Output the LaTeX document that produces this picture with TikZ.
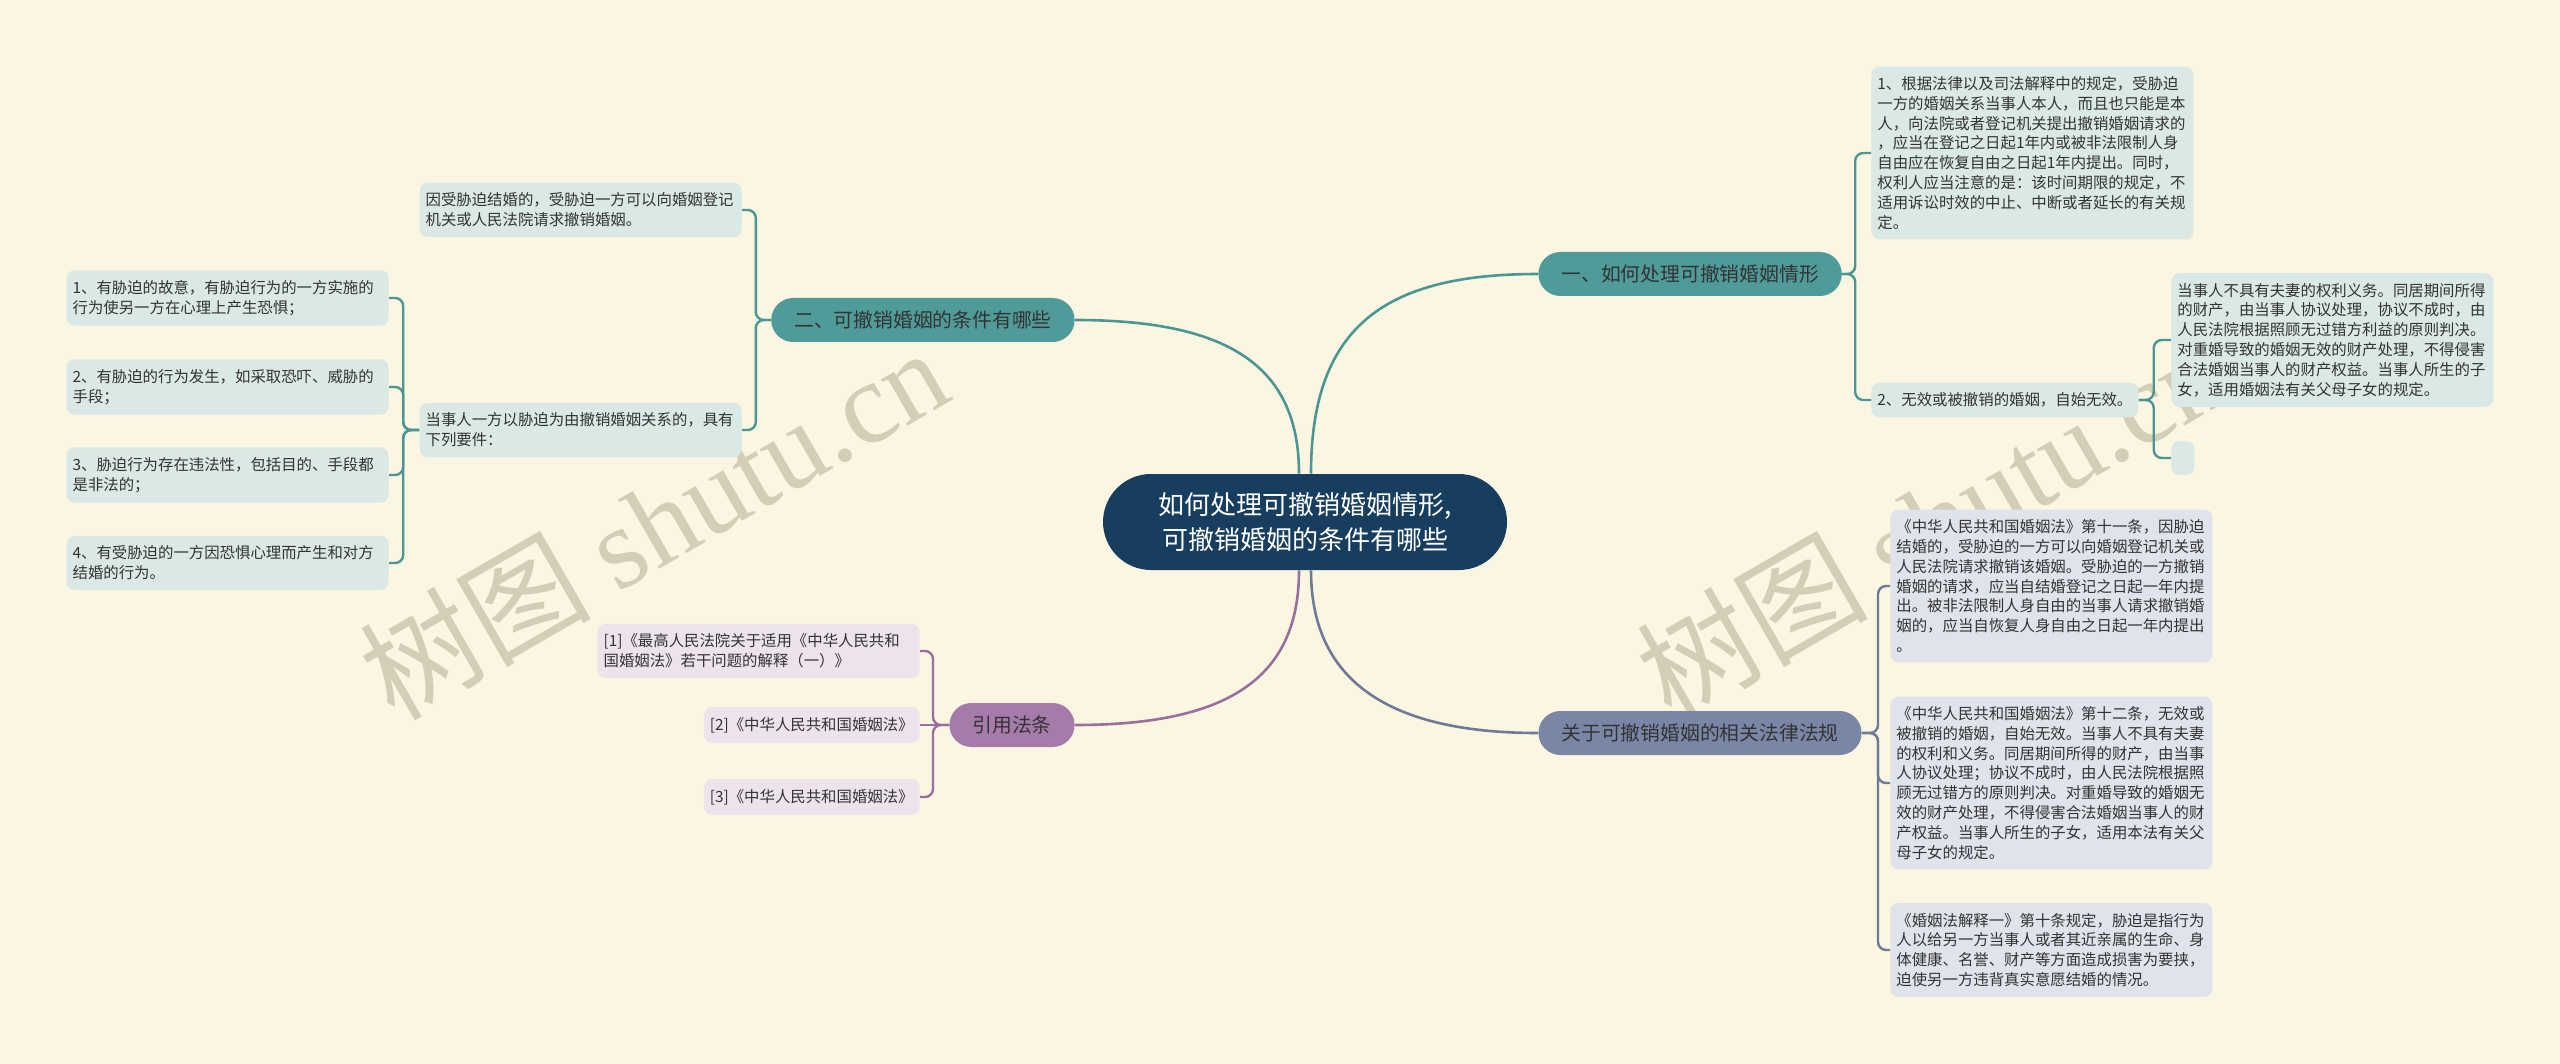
\documentclass[tikz,border=0pt]{standalone}
\usepackage{fontspec}
\setmainfont{Noto Sans CJK SC}
\newfontfamily\wmlatin{Liberation Serif}
\definecolor{paper}{HTML}{FBF6E2}
\definecolor{navy}{HTML}{173E5F}
\definecolor{sea}{HTML}{4F9B99}
\definecolor{sealine}{HTML}{4B9694}
\definecolor{seapale}{HTML}{DAE8E6}
\definecolor{slate}{HTML}{7A86A6}
\definecolor{slateline}{HTML}{6E7A98}
\definecolor{slatepale}{HTML}{E0E3EB}
\definecolor{plum}{HTML}{A67BAA}
\definecolor{plumline}{HTML}{9A6E9F}
\definecolor{plumpale}{HTML}{EDE3EC}
\definecolor{wmgray}{HTML}{D4CEB8}
\definecolor{ink}{HTML}{333333}

\begin{document}
\begin{tikzpicture}[
      x=0.5pt,y=-0.5pt,
      hub/.style={fill=navy,text=white,rounded corners=24pt,minimum width=202pt,minimum height=48pt,align=center,font=\fontsize{13}{17.5}\selectfont},
      branch/.style={rounded corners=11pt,minimum height=22pt,inner xsep=11.5pt,text=ink,font=\fontsize{9.9}{12}\selectfont},
      cell/.style={fill=seapale,rounded corners=4pt,inner xsep=3pt,inner ysep=5pt,align=left,text=ink,font=\fontsize{7.7}{9.9}\selectfont},
      leaf/.style={cell,text width=155pt},
      wire/.style={line width=1.2pt,rounded corners=4pt},
      limb/.style={line width=1.3pt},
      wm/.style={text=wmgray,rotate=30,font=\fontsize{58}{58}\selectfont}
    ]
    \fill[paper] (0,0) rectangle (2560,1064);
    \useasboundingbox (0,0) rectangle (2560,1064);

    \node[wm] (WL) at (653,522) {树图 {\wmlatin shutu.cn}};
    \node[wm] (WR) at (1930,522) {树图 {\wmlatin shutu.cn}};

    \node[hub] (R) at (1305,522) {如何处理可撤销婚姻情形,\\可撤销婚姻的条件有哪些};
    \node[branch,fill=sea,anchor=west] (B1) at (1538,274) {一、如何处理可撤销婚姻情形};
    \node[branch,fill=slate,anchor=west] (B4) at (1538,733) {关于可撤销婚姻的相关法律法规};
    \node[branch,fill=sea,anchor=east] (B2) at (1075,320) {二、可撤销婚姻的条件有哪些};
    \node[branch,fill=plum,anchor=east] (B3) at (1075,725) {引用法条};

    \node[leaf,anchor=west] (L11) at (1871,153) {1、根据法律以及司法解释中的规定，受胁迫\\一方的婚姻关系当事人本人，而且也只能是本\\人，向法院或者登记机关提出撤销婚姻请求的\\，应当在登记之日起1年内或被非法限制人身\\自由应在恢复自由之日起1年内提出。同时，\\权利人应当注意的是：该时间期限的规定，不\\适用诉讼时效的中止、中断或者延长的有关规\\定。};
    \node[cell,anchor=west] (L12) at (1871,400) {2、无效或被撤销的婚姻，自始无效。};
    \node[leaf,anchor=west] (L121) at (2171,340) {当事人不具有夫妻的权利义务。同居期间所得\\的财产，由当事人协议处理，协议不成时，由\\人民法院根据照顾无过错方利益的原则判决。\\对重婚导致的婚姻无效的财产处理，不得侵害\\合法婚姻当事人的财产权益。当事人所生的子\\女，适用婚姻法有关父母子女的规定。};
    \node[cell,anchor=west,minimum width=11.5pt,minimum height=17pt] (L122) at (2171,458) {};

    \node[leaf,fill=slatepale,anchor=west] (L41) at (1890,586) {《中华人民共和国婚姻法》第十一条，因胁迫\\结婚的，受胁迫的一方可以向婚姻登记机关或\\人民法院请求撤销该婚姻。受胁迫的一方撤销\\婚姻的请求，应当自结婚登记之日起一年内提\\出。被非法限制人身自由的当事人请求撤销婚\\姻的，应当自恢复人身自由之日起一年内提出\\。};
    \node[leaf,fill=slatepale,anchor=west] (L42) at (1890,783) {《中华人民共和国婚姻法》第十二条，无效或\\被撤销的婚姻，自始无效。当事人不具有夫妻\\的权利和义务。同居期间所得的财产，由当事\\人协议处理；协议不成时，由人民法院根据照\\顾无过错方的原则判决。对重婚导致的婚姻无\\效的财产处理，不得侵害合法婚姻当事人的财\\产权益。当事人所生的子女，适用本法有关父\\母子女的规定。};
    \node[leaf,fill=slatepale,anchor=west] (L43) at (1890,950) {《婚姻法解释一》第十条规定，胁迫是指行为\\人以给另一方当事人或者其近亲属的生命、身\\体健康、名誉、财产等方面造成损害为要挟，\\迫使另一方违背真实意愿结婚的情况。};

    \node[leaf,anchor=east] (L21) at (742,210) {因受胁迫结婚的，受胁迫一方可以向婚姻登记\\机关或人民法院请求撤销婚姻。};
    \node[leaf,anchor=east] (L22) at (742,430) {当事人一方以胁迫为由撤销婚姻关系的，具有\\下列要件：};
    \node[leaf,anchor=east] (L221) at (389,298) {1、有胁迫的故意，有胁迫行为的一方实施的\\行为使另一方在心理上产生恐惧；};
    \node[leaf,anchor=east] (L222) at (389,387) {2、有胁迫的行为发生，如采取恐吓、威胁的\\手段；};
    \node[leaf,anchor=east] (L223) at (389,475) {3、胁迫行为存在违法性，包括目的、手段都\\是非法的；};
    \node[leaf,anchor=east] (L224) at (389,563) {4、有受胁迫的一方因恐惧心理而产生和对方\\结婚的行为。};

    \node[leaf,fill=plumpale,anchor=east] (L31) at (920,651) {[1]《最高人民法院关于适用《中华人民共和\\国婚姻法》若干问题的解释（一）》};
    \node[cell,fill=plumpale,anchor=east] (L32) at (920,725) {[2]《中华人民共和国婚姻法》};
    \node[cell,fill=plumpale,anchor=east] (L33) at (920,797) {[3]《中华人民共和国婚姻法》};

    \draw[limb,draw=sealine] ([xshift=3pt]R.north) .. controls +(0,-150) and +(-150,0) .. (B1.west);
    \draw[limb,draw=sealine] ([xshift=-3pt]R.north) .. controls +(0,-110) and +(150,0) .. (B2.east);
    \draw[limb,draw=plumline] ([xshift=-3pt]R.south) .. controls +(0,110) and +(150,0) .. (B3.east);
    \draw[limb,draw=slateline] ([xshift=3pt]R.south) .. controls +(0,110) and +(-150,0) .. (B4.west);

    \draw[wire,draw=sealine] (B1.east) -- ++(13,0) |- (L11.west);
    \draw[wire,draw=sealine] (B1.east) -- ++(13,0) |- (L12.west);
    \draw[wire,draw=sealine] (L12.east) -- ++(15,0) |- (L121.west);
    \draw[wire,draw=sealine] (L12.east) -- ++(15,0) |- (L122.west);
    \draw[wire,draw=slateline] (B4.east) -- ++(16,0) |- (L41.west);
    \draw[wire,draw=slateline] (B4.east) -- ++(16,0) |- (L42.west);
    \draw[wire,draw=slateline] (B4.east) -- ++(16,0) |- (L43.west);
    \draw[wire,draw=sealine] (B2.west) -- ++(-15,0) |- (L21.east);
    \draw[wire,draw=sealine] (B2.west) -- ++(-15,0) |- (L22.east);
    \draw[wire,draw=sealine] (L22.west) -- ++(-16,0) |- (L221.east);
    \draw[wire,draw=sealine] (L22.west) -- ++(-16,0) |- (L222.east);
    \draw[wire,draw=sealine] (L22.west) -- ++(-16,0) |- (L223.east);
    \draw[wire,draw=sealine] (L22.west) -- ++(-16,0) |- (L224.east);
    \draw[wire,draw=plumline] (B3.west) -- ++(-16,0) |- (L31.east);
    \draw[wire,draw=plumline] (B3.west) -- (L32.east);
    \draw[wire,draw=plumline] (B3.west) -- ++(-16,0) |- (L33.east);
  \end{tikzpicture}
\end{document}
